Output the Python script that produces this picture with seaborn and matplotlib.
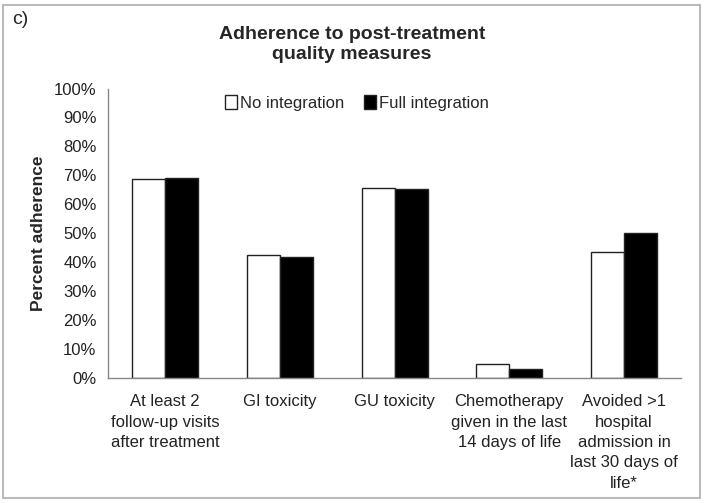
import numpy as np
import pandas as pd
import matplotlib
matplotlib.use("Agg")
import matplotlib.pyplot as plt
import seaborn as sns
from matplotlib.patches import Rectangle

# Datos
categorias = [
    "At least 2\nfollow-up visits\nafter treatment",
    "GI toxicity",
    "GU toxicity",
    "Chemotherapy\ngiven in the last\n14 days of life",
    "Avoided >1\nhospital\nadmission in\nlast 30 days of\nlife*",
]
grupos = ["No integration", "Full integration"]
sin_integracion = [68.8, 42.5, 65.7, 4.5, 43.4]
integracion_total = [69.2, 41.8, 65.2, 2.9, 50.1]

datos = pd.DataFrame({
    "Medida": categorias * 2,
    "Grupo": [grupos[0]] * len(categorias) + [grupos[1]] * len(categorias),
    "Adherencia": sin_integracion + integracion_total,
})

sns.set_style("white")
plt.rcParams["font.family"] = ["Liberation Sans", "DejaVu Sans"]

fig = plt.figure(figsize=(7.04, 5.03), dpi=100)
ax = fig.add_axes([0.153, 0.2495, 0.815, 0.5745])

sns.barplot(data=datos, x="Medida", y="Adherencia", hue="Grupo",
            palette=["white", "black"], edgecolor="#222222", linewidth=1.0,
            width=0.575, ax=ax, legend=True)

ax.set_ylim(0, 100)
ax.set_xlim(-0.5, len(categorias) - 0.5)
ax.set_yticks(np.arange(0, 101, 10))
ax.set_yticklabels([f"{v}%" for v in range(0, 101, 10)], fontsize=12, color="#222222")
ax.set_xticks(np.arange(len(categorias)))
ax.set_xticklabels(categorias, fontsize=12, color="#222222", linespacing=1.45)
ax.tick_params(axis="x", length=0, pad=12)
ax.set_xticks(np.arange(len(categorias) + 1) - 0.5, minor=True)
ax.tick_params(axis="x", which="minor", length=5, color="#888888", direction="out")
ax.tick_params(axis="y", length=5, color="#888888", direction="out", pad=3)

for lado in ["top", "right"]:
    ax.spines[lado].set_visible(False)
for lado in ["left", "bottom"]:
    ax.spines[lado].set_color("#888888")
    ax.spines[lado].set_linewidth(1.0)

ax.set_xlabel("")
ax.set_ylabel("Percent adherence", fontsize=12.5, fontweight="bold", labelpad=6)

leg = ax.legend(loc="upper center", bbox_to_anchor=(0.435, 1.03), ncol=2, frameon=False,
                fontsize=12, handlelength=0.7, handleheight=0.9, handletextpad=0.2,
                columnspacing=1.2)
for h in leg.legend_handles:
    h.set_edgecolor("#222222")

fig.text(0.5, 0.911, "Adherence to post-treatment\nquality measures", ha="center",
         va="center", fontsize=14, fontweight="bold", linespacing=1.2)
fig.text(0.017, 0.962, "c)", ha="left", va="center", fontsize=14)

fig.patches.append(Rectangle((0.004, 0.01), 0.991, 0.98, transform=fig.transFigure,
                             fill=False, edgecolor="#bbbbbb", linewidth=1.5))

fig.savefig("out.png", dpi=100)
